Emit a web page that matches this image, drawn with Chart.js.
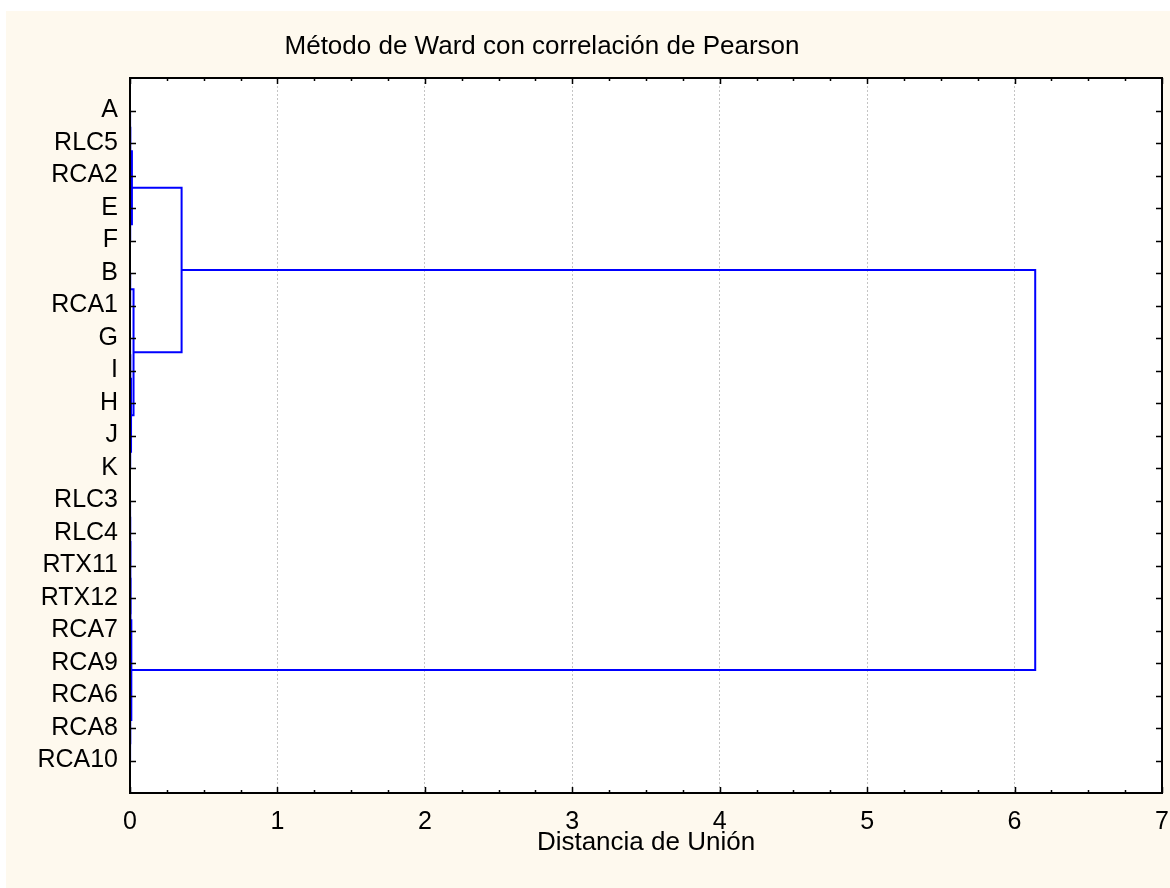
<!DOCTYPE html>
<html>
<head>
<meta charset="utf-8">
<script src="https://cdn.jsdelivr.net/npm/chart.js@4.4.1/dist/chart.umd.min.js"></script>
<style>
  html, body { margin: 0; padding: 0; background: #ffffff; }
  #panel { position: absolute; left: 6px; top: 11px; width: 1164px; height: 877px; background: #fef9ee; }
  canvas { display: block; }
</style>
</head>
<body>
<div id="panel"><canvas id="chart" width="1164" height="877"></canvas></div>
<script>
// Leaves of the tree, top to bottom
const leafLabels = ['A', 'RLC5', 'RCA2', 'E', 'F', 'B', 'RCA1', 'G', 'I', 'H', 'J', 'K',
  'RLC3', 'RLC4', 'RTX11', 'RTX12', 'RCA7', 'RCA9', 'RCA6', 'RCA8', 'RCA10'];

// Linkage: ids below 21 are leaves, merge k creates cluster 21 + k
const mergeLeft   = [0, 21, 3, 22, 5, 7, 26, 10, 27, 25, 24, 12, 32, 15, 33, 35, 19, 18, 36, 31];
const mergeRight  = [1, 2, 4, 23, 6, 8, 9, 11, 28, 29, 30, 13, 14, 16, 34, 17, 20, 37, 38, 39];
const mergeHeight = [0.001, 0.003, 0.002, 0.013, 0.002, 0.001, 0.003, 0.002, 0.007, 0.024, 0.35,
  0.001, 0.002, 0.001, 0.003, 0.004, 0.001, 0.002, 0.009, 6.14];

const xTicks = [0, 1, 2, 3, 4, 5, 6, 7];
const titleText = 'Método de Ward con correlación de Pearson';
const xTitle = 'Distancia de Unión';

// Node positions: leaf i sits at y = i + 1 with height 0
const nodeY = leafLabels.map((_, i) => i + 1);
const nodeH = leafLabels.map(() => 0);
const datasets = [];
mergeLeft.forEach((l, k) => {
  const r = mergeRight[k];
  const h = mergeHeight[k];
  nodeY.push((nodeY[l] + nodeY[r]) / 2);
  nodeH.push(h);
  datasets.push({
    data: [
      { x: nodeH[l], y: nodeY[l] },
      { x: h, y: nodeY[l] },
      { x: h, y: nodeY[r] },
      { x: nodeH[r], y: nodeY[r] }
    ],
    showLine: true,
    borderColor: '#0000ff',
    borderWidth: 2,
    pointRadius: 0,
    tension: 0,
    fill: false
  });
});

const FONT = 'Arial, "Liberation Sans", sans-serif';

// Frame, inward ticks and heading
const framePlugin = {
  id: 'frame',
  beforeDraw(chart) {
    const { ctx, chartArea: a } = chart;
    ctx.save();
    ctx.fillStyle = '#ffffff';
    ctx.fillRect(a.left, a.top, a.right - a.left, a.bottom - a.top);
    ctx.restore();
  },
  afterDraw(chart) {
    const { ctx, chartArea: a, scales } = chart;
    ctx.save();
    ctx.strokeStyle = '#000';
    ctx.lineWidth = 1.5;
    ctx.beginPath();
    // x ticks: major every 1, minor every 0.25
    for (let v = 0; v <= 7.0001; v += 0.25) {
      const px = Math.round(scales.x.getPixelForValue(v)) + 0.5;
      const len = Math.abs(v - Math.round(v)) < 1e-6 ? 6 : 3;
      ctx.moveTo(px, a.bottom); ctx.lineTo(px, a.bottom - len);
      ctx.moveTo(px, a.top); ctx.lineTo(px, a.top + len);
    }
    // y ticks at every leaf
    leafLabels.forEach((_, i) => {
      const py = Math.round(scales.y.getPixelForValue(i + 1)) + 0.5;
      ctx.moveTo(a.left, py); ctx.lineTo(a.left + 6, py);
      ctx.moveTo(a.right, py); ctx.lineTo(a.right - 6, py);
    });
    ctx.stroke();
    ctx.lineWidth = 2;
    ctx.strokeRect(a.left, a.top, a.right - a.left, a.bottom - a.top);
    ctx.fillStyle = '#000';
    ctx.font = '26px ' + FONT;
    ctx.textAlign = 'center';
    ctx.textBaseline = 'middle';
    ctx.fillText(titleText, 536, 36);
    ctx.restore();
  }
};

new Chart(document.getElementById('chart'), {
  type: 'scatter',
  data: { datasets },
  options: {
    responsive: false,
    devicePixelRatio: 1,
    animation: false,
    layout: { padding: { left: 0, top: 67, right: 8, bottom: 0 } },
    plugins: { legend: { display: false }, tooltip: { enabled: false }, title: { display: false } },
    scales: {
      x: {
        type: 'linear',
        min: 0,
        max: 7,
        afterBuildTicks(scale) { scale.ticks = xTicks.map(v => ({ value: v })); },
        afterFit(scale) { scale.height = 95; scale.paddingLeft = 0; scale.paddingRight = 0; },
        ticks: { color: '#000', font: { family: FONT, size: 25 }, padding: 14, maxRotation: 0 },
        grid: { color: '#c4c4c4', lineWidth: 1, drawTicks: false },
        border: { display: false, dash: [2, 2] },
        title: { display: true, text: xTitle, color: '#000', font: { family: FONT, size: 26 }, padding: { top: 0, bottom: 30 } }
      },
      y: {
        type: 'linear',
        min: 0,
        max: 22,
        reverse: true,
        afterBuildTicks(scale) { scale.ticks = leafLabels.map((_, i) => ({ value: i + 1 })); },
        afterFit(scale) { scale.width = 124; scale.paddingTop = 0; scale.paddingBottom = 0; },
        ticks: {
          color: '#000',
          font: { family: FONT, size: 25 },
          padding: 12,
          callback: (v) => leafLabels[v - 1]
        },
        grid: { display: false, drawTicks: false },
        border: { display: false }
      }
    }
  },
  plugins: [framePlugin]
});
</script>
</body>
</html>
